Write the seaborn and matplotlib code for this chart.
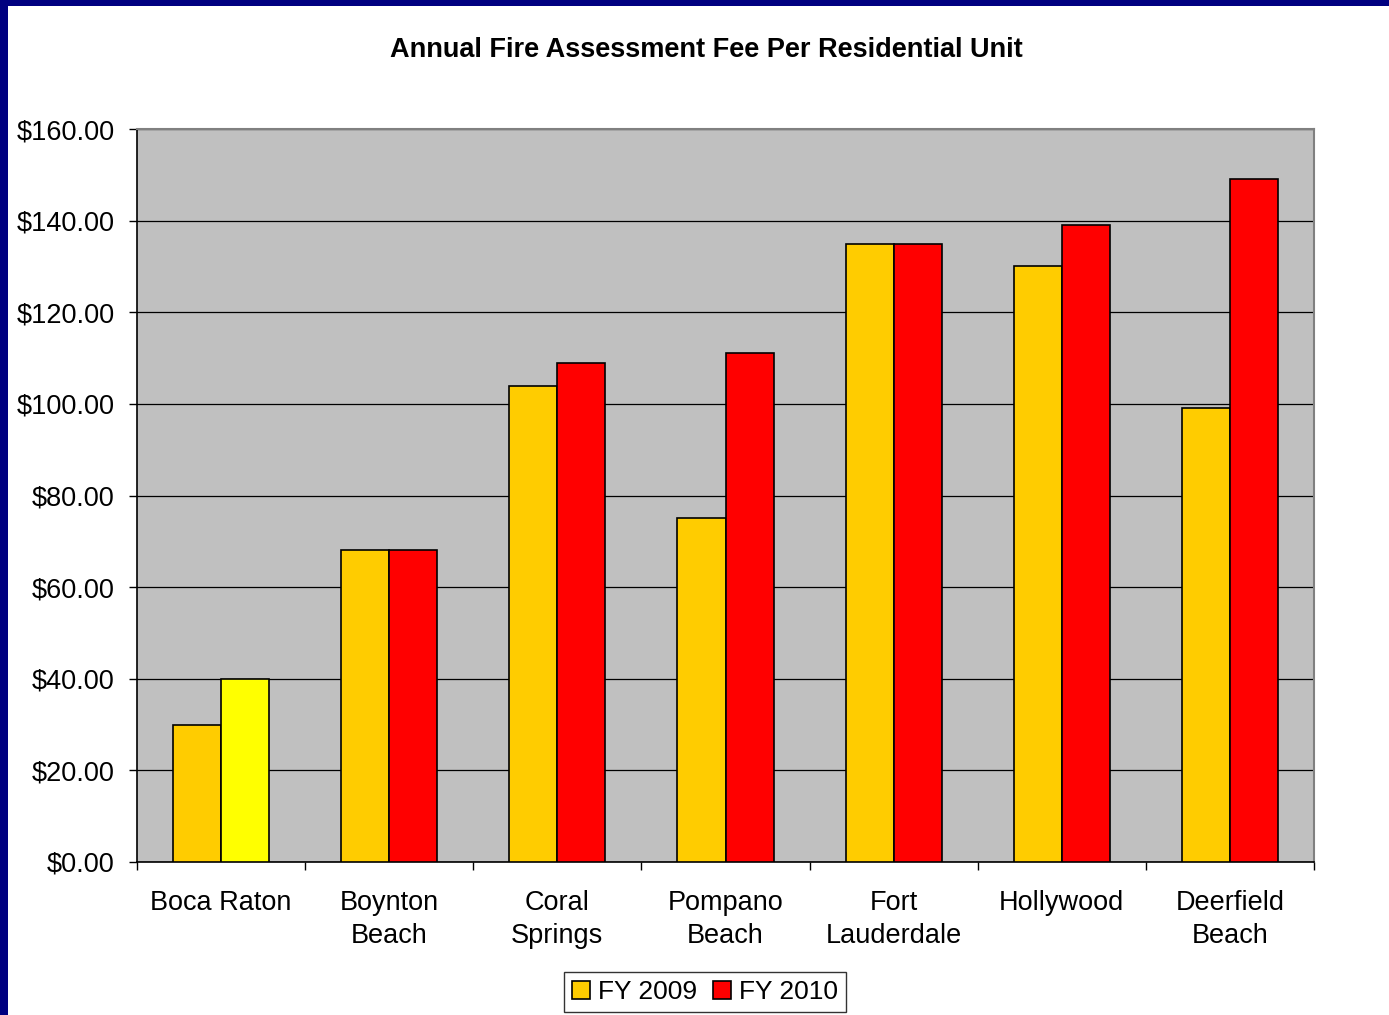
import matplotlib
matplotlib.use("Agg")
import matplotlib.pyplot as plt
import matplotlib.patches as mpatches
import seaborn as sns
import pandas as pd
import numpy as np

categories = ["Boca Raton", "Boynton\nBeach", "Coral\nSprings", "Pompano\nBeach",
              "Fort\nLauderdale", "Hollywood", "Deerfield\nBeach"]
fy2009 = [30, 68, 104, 75, 135, 130, 99]
fy2010 = [40, 68, 109, 111, 135, 139, 149]
series = ["FY 2009", "FY 2010"]
yticks = [0, 20, 40, 60, 80, 100, 120, 140, 160]

df = pd.DataFrame({
    "city": categories * 2,
    "fee": fy2009 + fy2010,
    "year": [series[0]] * len(categories) + [series[1]] * len(categories),
})

sns.set_theme(style="white")
plt.rcParams["font.family"] = ["Liberation Sans", "DejaVu Sans"]

fig = plt.figure(figsize=(13.89, 10.15), dpi=100)
fig.patch.set_facecolor("white")
ax = fig.add_axes([137/1389, 1 - 862/1015, (1314-137)/1389, (862-129)/1015])
ax.set_facecolor("#C0C0C0")

pal = {"FY 2009": "#FFCC00", "FY 2010": "#FF0000"}
sns.barplot(data=df, x="city", y="fee", hue="year", palette=pal, width=0.571,
            edgecolor="black", linewidth=1.2, saturation=1, ax=ax, zorder=3,
            legend=False)

# Boca Raton FY 2010 bar is yellow in the original
bars10 = ax.containers[1]
bars10[0].set_facecolor("#FFFF00")

ax.set_ylim(0, 160)
ax.set_xlim(-0.5, len(categories) - 0.5)
ax.set_yticks(yticks)
ax.set_yticklabels([f"${v:.2f}" for v in yticks])
ax.yaxis.grid(True, color="black", linewidth=0.9, zorder=1)
ax.set_axisbelow(True)

ax.set_xticks(np.arange(-0.5, len(categories) + 0.5, 1.0))
ax.set_xticklabels([])
ax.set_xticks(np.arange(len(categories)), minor=True)
ax.set_xticklabels(categories, minor=True, fontsize=19.5, linespacing=1.36)
ax.tick_params(axis="x", which="major", direction="out", length=6, width=1,
               color="black", bottom=True)
ax.tick_params(axis="x", which="minor", length=0, pad=20)
ax.tick_params(axis="y", direction="out", length=6, width=1, color="black",
               left=True, labelsize=19.5, pad=10)
for lbl in ax.get_yticklabels():
    lbl.set_color("black")
for lbl in ax.get_xticklabels(minor=True):
    lbl.set_color("black")

ax.set_xlabel("")
ax.set_ylabel("")
for s in ["left", "bottom"]:
    ax.spines[s].set_color("black")
    ax.spines[s].set_linewidth(1.2)
for s in ["top", "right"]:
    ax.spines[s].set_color("#808080")
    ax.spines[s].set_linewidth(1.5)

fig.text(706/1389, 1 - 50/1015, "Annual Fire Assessment Fee Per Residential Unit",
         ha="center", va="center", fontsize=19.5, fontweight="bold", color="black")

handles = [mpatches.Patch(facecolor=pal[s], edgecolor="black", linewidth=1.2, label=s)
           for s in series]
leg = fig.legend(handles=handles, loc="center", bbox_to_anchor=(705/1389, 1 - 992/1015),
                 ncol=2, fontsize=19, frameon=True, fancybox=False,
                 handlelength=0.7, handleheight=0.7, handletextpad=0.3,
                 columnspacing=0.6, borderpad=0.3, labelcolor="black")
leg.get_frame().set_edgecolor("black")
leg.get_frame().set_linewidth(1.0)

# navy slide border on top and left
fig.patches.append(mpatches.Rectangle((0, 1 - 6/1015), 1, 6/1015, transform=fig.transFigure,
                                      facecolor="#000080", edgecolor="none", zorder=10))
fig.patches.append(mpatches.Rectangle((0, 0), 8/1389, 1, transform=fig.transFigure,
                                      facecolor="#000080", edgecolor="none", zorder=10))

fig.savefig("out.png", dpi=100, facecolor="white")
